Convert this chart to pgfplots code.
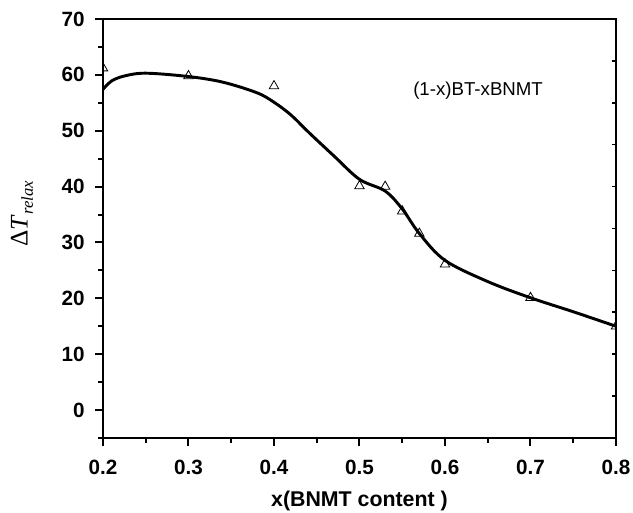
\documentclass[border=0pt]{standalone}
\usepackage{pgfplots}
\pgfplotsset{compat=1.18}
\usepackage{fontspec}
\setmainfont{Liberation Sans}
\newfontfamily\serif{Liberation Serif}
\begin{document}
\begin{tikzpicture}
\begin{axis}[name=a, scale only axis, width=384.75pt, height=314.25pt,
  xmin=0.2, xmax=0.8, ymin=-5, ymax=70,
  xtick={0.2,0.3,0.4,0.5,0.6,0.7,0.8},
  xticklabels={0.2,0.3,0.4,0.5,0.6,0.7,0.8},
  minor xtick={0.25,0.35,0.45,0.55,0.65,0.75},
  ytick={0,10,20,30,40,50,60,70},
  minor ytick={-5,5,15,25,35,45,55,65},
  xtick pos=bottom, ytick pos=left, tick align=outside,
  major tick length=6pt, minor tick length=3.5pt,
  every tick/.style={line width=1.5pt, black},
  axis line style={line width=2.2pt},
  tick label style={font=\bfseries\fontsize{15.5}{16}\selectfont},
  /pgf/number format/assume math mode=true,
  xticklabel style={anchor=base, yshift=-21.75pt},
  yticklabel style={anchor=east, inner sep=0pt, xshift=-7.5pt},
  xlabel={x(BNMT content )},
  xlabel style={font=\bfseries\fontsize{16}{16}\selectfont, at={(axis description cs:0.5,0)}, anchor=base, yshift=-51.75pt},
  ylabel={{\serif\fontsize{19}{19}\selectfont Δ\textit{T}\raisebox{-0.45ex}{\fontsize{12.5}{12.5}\selectfont\textit{relax}}}},
  ylabel style={at={(axis description cs:-0.1579,0.535)}, anchor=center},
  clip marker paths=true,
]
\addplot[only marks, mark=triangle, mark size=4.1pt, mark options={fill=white, draw=black, line width=0.6pt, solid}]
coordinates {(0.2,61.2) (0.3,59.8) (0.4,58.0) (0.5,40.1) (0.53,40.0) (0.55,35.6) (0.57,31.6) (0.6,26.1) (0.7,20.1) (0.8,15.0)};
\addplot[black, line width=2.2pt, smooth, tension=0.55] coordinates {
(0.200,57.4) (0.210,58.9) (0.225,59.8) (0.250,60.3) (0.300,59.7) (0.340,58.7)
(0.380,56.8) (0.400,55.1) (0.420,52.8) (0.440,49.8) (0.470,45.5) (0.500,41.3)
(0.530,39.2) (0.550,36.0) (0.570,31.6) (0.600,26.8) (0.650,23.0) (0.700,20.1)
(0.750,17.6) (0.800,15.0)};
\node[anchor=base west, inner sep=0pt, font=\fontsize{14}{14}\selectfont] at (axis cs:0.5626,56.3) {(1-x)BT-xBNMT};
\end{axis}
\begin{axis}[scale only axis, width=384.75pt, height=314.25pt,
  xmin=0.2, xmax=0.8, ymin=-5, ymax=70,
  hide x axis, axis y line*=right,
  ytick={-5,2.5,10,17.5,25,32.5,40,47.5,55,62.5,70}, yticklabels={},
  tick align=inside, major tick length=3pt,
  every tick/.style={line width=1.2pt, black},
  axis line style={line width=2.2pt},
]
\addplot[draw=none] coordinates {(0.2,0) (0.8,0)};
\end{axis}
\pgfresetboundingbox
\path ([shift={(-77.25pt,-56.25pt)}]a.south west) rectangle ([shift={(397.5pt,328.5pt)}]a.south west);
\end{tikzpicture}
\end{document}
